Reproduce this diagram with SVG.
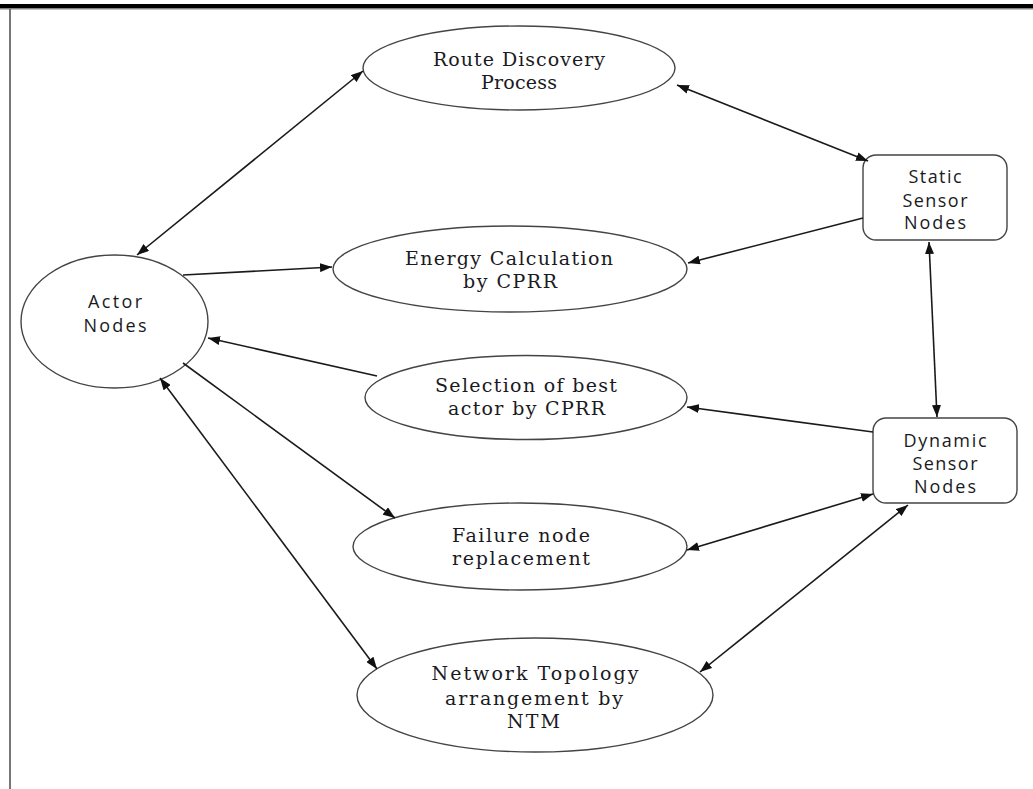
<svg xmlns="http://www.w3.org/2000/svg" width="1033" height="789" viewBox="0 0 1033 789">
<defs>
<marker id="ah" markerWidth="12" markerHeight="9" refX="12" refY="4.5" orient="auto-start-reverse" markerUnits="userSpaceOnUse" viewBox="0 0 12 9"><path d="M0,0 L12,4.5 L0,9 z" fill="#111"/></marker>
</defs>
<style>
.shape{fill:#fff;stroke:#444;stroke-width:1.4}
.ser{font-family:"DejaVu Serif","Liberation Serif",serif;font-size:19px;fill:#1a1a22;text-anchor:middle}
.san{font-family:"Open Sans",Lato,sans-serif;font-size:18px;fill:#1a1a22;text-anchor:middle;font-variant-ligatures:none}
.conn line{stroke:#1a1a1a;stroke-width:1.6;fill:none}
</style>
<rect width="1033" height="789" fill="#fff"/>
<rect x="0" y="4" width="1033" height="4.5" fill="#000"/>
<line x1="0" y1="9.4" x2="1033" y2="9.4" stroke="#aaa" stroke-width="0.8"/>
<line x1="10" y1="9" x2="10" y2="789" stroke="#555" stroke-width="1.6"/>

<g id="actor-nodes">
<ellipse class="shape" cx="114.5" cy="321.5" rx="93.5" ry="66.5"/>
<text class="san" x="115" y="308" textLength="54">Actor</text>
<text class="san" x="115" y="332" textLength="63">Nodes</text>
</g>
<g id="route-discovery">
<ellipse class="shape" cx="519" cy="68" rx="156" ry="42"/>
<text class="ser" x="519" y="66" textLength="172">Route Discovery</text>
<text class="ser" x="519" y="89" textLength="76">Process</text>
</g>
<g id="energy-calculation">
<ellipse class="shape" cx="510" cy="269" rx="177" ry="43"/>
<text class="ser" x="509" y="265" textLength="208">Energy Calculation</text>
<text class="ser" x="510" y="288" textLength="94">by CPRR</text>
</g>
<g id="selection-best-actor">
<ellipse class="shape" cx="526" cy="397.5" rx="161" ry="42"/>
<text class="ser" x="526" y="392" textLength="182">Selection of best</text>
<text class="ser" x="526.5" y="415" textLength="157">actor by CPRR</text>
</g>
<g id="failure-node-replacement">
<ellipse class="shape" cx="520" cy="546.5" rx="167" ry="43.5"/>
<text class="ser" x="521" y="542" textLength="138">Failure node</text>
<text class="ser" x="521" y="565" textLength="138">replacement</text>
</g>
<g id="network-topology">
<ellipse class="shape" cx="535" cy="695" rx="178" ry="57"/>
<text class="ser" x="535" y="680" textLength="207">Network Topology</text>
<text class="ser" x="534" y="705" textLength="178">arrangement by</text>
<text class="ser" x="533.5" y="728" textLength="53">NTM</text>
</g>
<g id="static-sensor-nodes">
<rect class="shape" x="863" y="155" width="144" height="85" rx="13"/>
<text class="san" x="935" y="183" textLength="53">Static</text>
<text class="san" x="935" y="206.5" textLength="65">Sensor</text>
<text class="san" x="935" y="229" textLength="62">Nodes</text>
</g>
<g id="dynamic-sensor-nodes">
<rect class="shape" x="873" y="418" width="144" height="85" rx="13"/>
<text class="san" x="945" y="447" textLength="83">Dynamic</text>
<text class="san" x="945" y="470" textLength="65">Sensor</text>
<text class="san" x="945" y="493" textLength="62">Nodes</text>
</g>

<g id="connectors" class="conn">
<line x1="137" y1="255" x2="363" y2="71" marker-start="url(#ah)" marker-end="url(#ah)"/>
<line x1="183" y1="275" x2="332" y2="267" marker-end="url(#ah)"/>
<line x1="377" y1="376" x2="208" y2="338" marker-end="url(#ah)"/>
<line x1="183" y1="363" x2="395" y2="518" marker-end="url(#ah)"/>
<line x1="160" y1="378" x2="377" y2="669" marker-start="url(#ah)" marker-end="url(#ah)"/>
<line x1="677" y1="85" x2="868" y2="161" marker-start="url(#ah)" marker-end="url(#ah)"/>
<line x1="863" y1="218" x2="688" y2="263" marker-end="url(#ah)"/>
<line x1="929" y1="242" x2="937" y2="417" marker-start="url(#ah)" marker-end="url(#ah)"/>
<line x1="873" y1="432" x2="687" y2="407" marker-end="url(#ah)"/>
<line x1="873" y1="494" x2="687" y2="550" marker-start="url(#ah)" marker-end="url(#ah)"/>
<line x1="908" y1="505" x2="700" y2="672" marker-start="url(#ah)" marker-end="url(#ah)"/>
</g>
</svg>
